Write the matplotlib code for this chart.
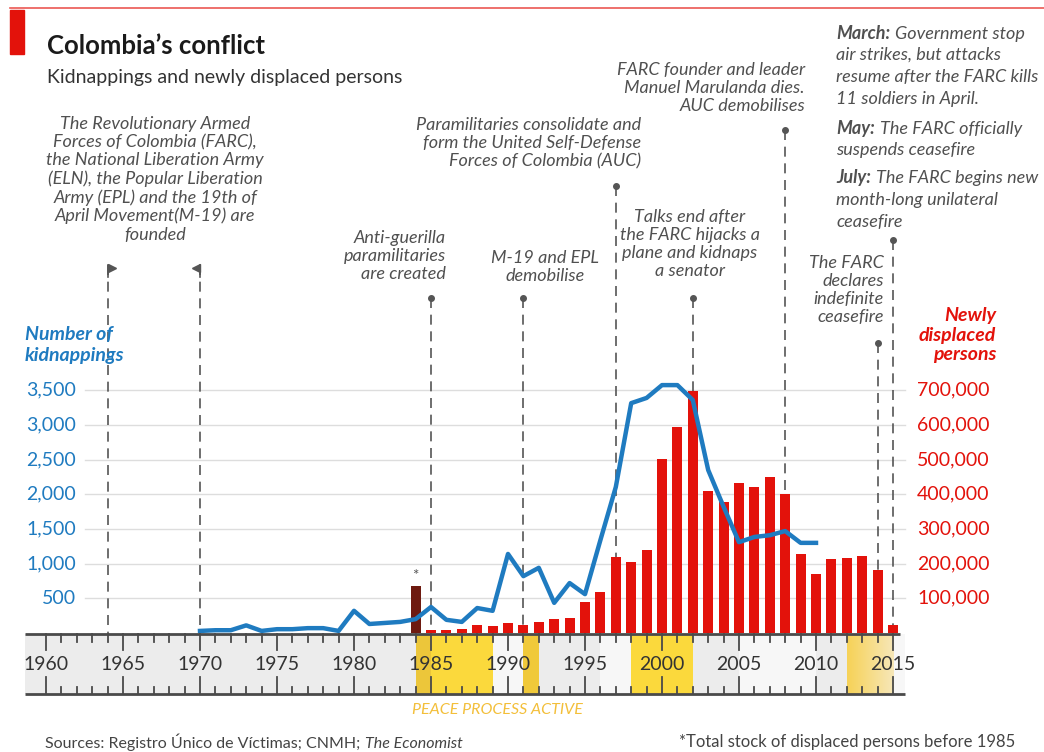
import matplotlib
matplotlib.use('Agg')
import matplotlib.pyplot as plt
import numpy as np
from matplotlib.patches import Rectangle

# ---------------- data ----------------
kid_years = list(range(1970, 2011))
kidnappings = [30, 40, 40, 110, 30, 55, 55, 70, 70, 30,
               320, 130, 145, 160, 200, 375, 190, 160, 360, 320,
               1140, 820, 940, 435, 720, 560, 1340, 2105, 3315, 3390,
               3575, 3575, 3360, 2350, 1820, 1310, 1385, 1410, 1470, 1300,
               1300]

disp_years = list(range(1985, 2016))
displaced = [8000, 9000, 11500, 24000, 20000, 28000, 23000, 33000, 39000, 42000,
             88000, 117000, 220000, 206000, 240000, 501000, 595000, 698000, 410000, 379000,
             432000, 422000, 449000, 401000, 228000, 170000, 212000, 215000, 222000, 182000,
             23000]
stock_year = 1984
stock_before_1985 = 136000

kid_ticks = [500, 1000, 1500, 2000, 2500, 3000, 3500]
kid_tick_labels = ["500", "1,000", "1,500", "2,000", "2,500", "3,000", "3,500"]
disp_ticks = [100000, 200000, 300000, 400000, 500000, 600000, 700000]
disp_tick_labels = ["100,000", "200,000", "300,000", "400,000", "500,000", "600,000", "700,000"]
year_labels = list(range(1960, 2020, 5))

peace_periods = [(1984, 1989), (1991, 1992), (1998, 2002), (2012, 2015)]

# ---------------- colours ----------------
BLUE = '#1f7bc0'
RED = '#e3120b'
BROWN = '#6e1a10'
GREY_TXT = '#505050'
YELLOW = '#fbd93c'

# pixel -> data helpers (layout only)
K = 500 / 34.67
def X(px):
    return 1960 + (px - 46) / 15.4
def Y(py):
    return (633 - py) * K

fig = plt.figure(figsize=(10.44, 7.52), dpi=100)
fig.patch.set_facecolor('white')
axk = fig.add_axes([0, 0, 1, 1])
axb = axk.twinx()
axb.set_position([0, 0, 1, 1])
axk.set_xlim(X(0), X(1044))
axk.set_ylim(Y(752), Y(0))
axb.set_ylim(Y(752) * 200, Y(0) * 200)
axk.axis('off')
axb.axis('off')
axk.set_zorder(2)
axb.set_zorder(1)

FONT = 'Lato'

# ---------------- header ----------------
fig.add_artist(plt.Line2D([10/1044, 1], [1 - 8/752, 1 - 8/752], color=RED, lw=1.2, alpha=0.7))
fig.add_artist(Rectangle((10/1044, 1 - 54/752), 14/1044, 44/752, color=RED, transform=fig.transFigure))
fig.text(47/1044, 1 - 46/752, "Colombia\u2019s conflict", fontsize=18.5, fontweight='bold',
         family=FONT, color='#1a1a1a', va='center', ha='left')
fig.text(47/1044, 1 - 77/752, "Kidnappings and newly displaced persons", fontsize=14,
         family=FONT, color='#333333', va='center', ha='left')

# ---------------- gridlines ----------------
for v in disp_ticks:
    axb.plot([X(85), X(905)], [v, v], color='#dddddd', lw=1, zorder=0)

# ---------------- bars ----------------
axb.bar(disp_years, displaced, width=0.65, color=RED, zorder=3)
axb.bar([stock_year], [stock_before_1985], width=0.65, color=BROWN, zorder=3)
axb.text(stock_year, stock_before_1985 + 8000, "*", ha='center', va='bottom',
         fontsize=11, color='#555555', family=FONT)

# ---------------- event lines ----------------
event_years = [1964, 1970, 1985, 1991, 1997, 2002, 2008, 2014, 2015]
event_tops = [265, 265, 298, 298, 186, 298, 130, 343, 240]
for yr, top in zip(event_years, event_tops):
    axb.plot([yr, yr], [Y(top), Y(633)], transform=axk.transData, color='#555555',
             lw=1.2, ls=(0, (6, 4)), zorder=2)
    if yr in (1964, 1970):
        axk.plot([yr, yr], [Y(top), Y(top + 12)], color='#555555', lw=1.2, zorder=4)
        mk = '>' if yr == 1964 else '<'
        off = 0.28 if yr == 1964 else -0.28
        axk.plot([yr + off], [Y(top + 3)], marker=mk, color='#555555', ms=6, zorder=4)
    else:
        axk.plot([yr], [Y(top)], marker='o', color='#555555', ms=4, zorder=4)

# ---------------- kidnapping line ----------------
axk.plot(kid_years, kidnappings, color=BLUE, lw=3.2, solid_joinstyle='round', zorder=5)

# ---------------- axis tick labels ----------------
for v, lab in zip(kid_ticks, kid_tick_labels):
    axk.text(X(76), v, lab, ha='right', va='center', fontsize=14, color=BLUE, family=FONT)
for v, lab in zip(disp_ticks, disp_tick_labels):
    axb.text(X(917), v, lab, ha='left', va='center', fontsize=14, color=RED, family=FONT)

axk.text(X(25), Y(345), "Number of\nkidnappings", ha='left', va='center', fontsize=14,
         color=BLUE, family=FONT, style='italic', fontweight='bold', linespacing=1.25)
axk.text(X(996), Y(335), "Newly\ndisplaced\npersons", ha='right', va='center', fontsize=14,
         color=RED, family=FONT, style='italic', fontweight='bold', linespacing=1.2)

# ---------------- timeline band ----------------
yb0, yb1 = Y(694), Y(634)
axk.add_patch(Rectangle((X(25), yb0), X(905) - X(25), yb1 - yb0, color='#ececec', zorder=0, lw=0))
for a, b in [(1989, 1991), (1996, 1998), (2005, 2010), (2015, X(905))]:
    axk.add_patch(Rectangle((a, yb0), b - a, yb1 - yb0, color='#f7f7f7', zorder=0.5, lw=0))
for a, b in peace_periods:
    if a == 2012:
        grad = np.linspace(0, 1, 64).reshape(1, -1)
        cmap = matplotlib.colors.LinearSegmentedColormap.from_list('g', ['#f6d257', '#f7e7b8'])
        axk.imshow(grad, extent=(a, b, yb0, yb1), aspect='auto', cmap=cmap, zorder=1)
    else:
        axk.add_patch(Rectangle((a, yb0), b - a, yb1 - yb0, color=YELLOW, zorder=1, lw=0))
axk.add_patch(Rectangle((1984, yb0), 1, yb1 - yb0, color='#ecc63a', zorder=1.1, lw=0))
axk.add_patch(Rectangle((1991, yb0), 1, yb1 - yb0, color='#f0c93a', zorder=1.1, lw=0))
axk.set_xlim(X(0), X(1044))
axk.set_ylim(Y(752), Y(0))

axk.plot([X(25), X(900)], [Y(634), Y(634)], color='#4a4a4a', lw=2, zorder=6, solid_capstyle='butt')
axk.plot([X(25), X(905)], [Y(694), Y(694)], color='#4a4a4a', lw=2, zorder=6, solid_capstyle='butt')
for yr in range(1960, 2016):
    major = (yr % 5 == 0)
    axk.plot([yr, yr], [Y(634), Y(650 if major else 642)], color='#4a4a4a', lw=1.3, zorder=6)
    axk.plot([yr, yr], [Y(694), Y(677 if major else 687)], color='#4a4a4a', lw=1.3, zorder=6)
for yr in year_labels:
    axk.text(yr, Y(664), str(yr), ha='center', va='center', fontsize=14, color='#333333',
             family=FONT, zorder=7)

axk.text(X(497), Y(710), "PEACE PROCESS ACTIVE", ha='center', va='center', fontsize=11.5,
         color='#f3bf3a', family=FONT, style='italic')

# ---------------- annotations ----------------
ann = dict(fontsize=13, color=GREY_TXT, family=FONT, style='italic', linespacing=1.16)
one = {k: v for k, v in ann.items() if k != 'linespacing'}
axk.text(X(155), Y(116), "The Revolutionary Armed\nForces of Colombia (FARC),\nthe National Liberation Army\n"
         "(ELN), the Popular Liberation\nArmy (EPL) and the 19th of\nApril Movement(M-19) are\nfounded",
         ha='center', va='top', **ann)
axk.text(X(446), Y(230), "Anti-guerilla\nparamilitaries\nare created", ha='right', va='top', **ann)
axk.text(X(545), Y(250), "M-19 and EPL\ndemobilise", ha='center', va='top', **ann)
axk.text(X(641), Y(117), "Paramilitaries consolidate and\nform the United Self-Defense\nForces of Colombia (AUC)",
         ha='right', va='top', **ann)
axk.text(X(690), Y(209), "Talks end after\nthe FARC hijacks a\nplane and kidnaps\na senator",
         ha='center', va='top', **ann)
axk.text(X(805), Y(62), "FARC founder and leader\nManuel Marulanda dies.\nAUC demobilises",
         ha='right', va='top', **ann)
axk.text(X(884), Y(255), "The FARC\ndeclares\nindefinite\nceasefire", ha='right', va='top', **ann)

# right column with bold lead words
col_x = X(836)
lines = [
    (33, "March:", "Government stop"),
    (55, None, "air strikes, but attacks"),
    (77, None, "resume after the FARC kills"),
    (99, None, "11 soldiers in April."),
    (128, "May:", "The FARC officially"),
    (150, None, "suspends ceasefire"),
    (178, "July:", "The FARC begins new"),
    (200, None, "month-long unilateral"),
    (222, None, "ceasefire"),
]
for py, bold, rest in lines:
    if bold is None:
        axk.text(col_x, Y(py), rest, ha='left', va='center', **one)
    else:
        t = axk.text(col_x, Y(py), bold, ha='left', va='center', fontweight='bold', **one)
        axk.annotate(rest, xy=(1, 0), xycoords=t, xytext=(3.5, 0), textcoords='offset points',
                     ha='left', va='bottom', **one)

# ---------------- footer ----------------
t = fig.text(45/1044, 1 - 742/752, "Sources: Registro \u00danico de V\u00edctimas; CNMH;", fontsize=11.5,
             family=FONT, color='#444444', ha='left', va='center')
axk.annotate("The Economist", xy=(1, 0), xycoords=t, xytext=(3.5, 0), textcoords='offset points',
             ha='left', va='bottom', fontsize=11.5,
             family=FONT, color='#444444', style='italic')
fig.text(1015/1044, 1 - 742/752, "*Total stock of displaced persons before 1985", fontsize=12,
         family=FONT, color='#444444', ha='right', va='center')

fig.savefig('out.png', dpi=100)
